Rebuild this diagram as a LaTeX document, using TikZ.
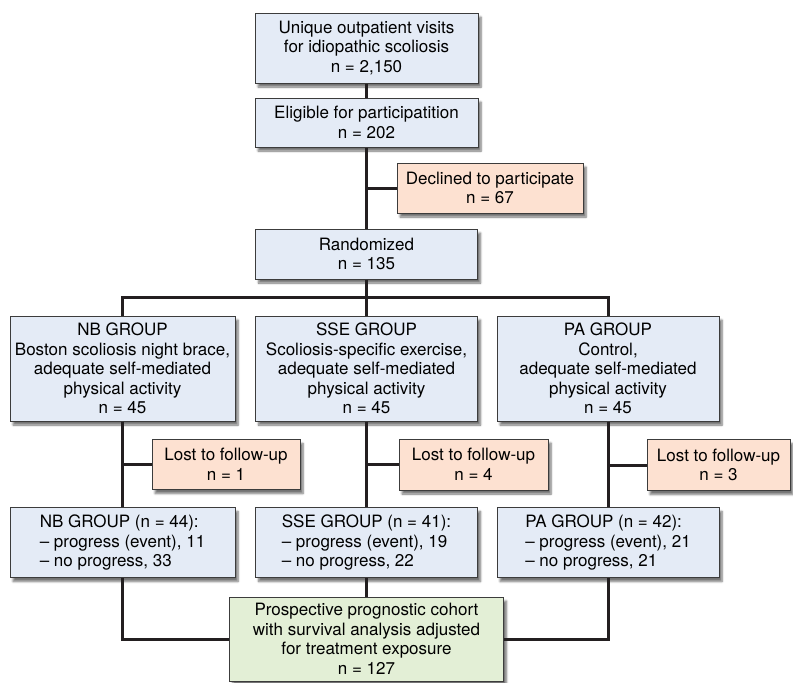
\documentclass[tikz,border=0pt]{standalone}
\usepackage{fontspec}
\setmainfont{TeX Gyre Heros}
\usepackage{xcolor}
\usepackage{tikz}
\usetikzlibrary{positioning,shadows.blur}
\definecolor{boxblue}{HTML}{E4EBF6}
\definecolor{boxpeach}{HTML}{FDE1D1}
\definecolor{boxgreen}{HTML}{E3EFD6}
\definecolor{boxline}{HTML}{3C3C3C}
\definecolor{wire}{HTML}{231F20}

\begin{document}
\begin{tikzpicture}[x=1pt, y=-1pt,
  box/.style={draw=boxline, line width=1pt, fill=boxblue, align=center, inner sep=0pt,
    font=\fontsize{17}{19.5}\selectfont,
    blur shadow={shadow xshift=3pt, shadow yshift=-4pt, shadow blur steps=6, shadow opacity=55}},
  outbox/.style={box, fill=boxpeach},
  endbox/.style={box, fill=boxgreen},
  link/.style={draw=wire, line width=3pt}]
  % page is 793 x 683 px, 1px = 1pt, y grows downwards
  \useasboundingbox (0,0) rectangle (793,683);
  % enrolment
  \node[box, minimum width=223pt, minimum height=70pt] (visits) at (366.5,48)
    {Unique outpatient visits\\for idiopathic scoliosis\\n = 2,150};
  \node[box, minimum width=223pt, minimum height=49pt] (elig) at (366.5,122.5)
    {Eligible for participatition\\n = 202};
  \node[outbox, minimum width=186pt, minimum height=50pt] (decl) at (490,188)
    {Declined to participate\\n = 67};
  \node[box, minimum width=222pt, minimum height=50pt] (rand) at (366.5,254)
    {Randomized\\n = 135};
  % allocation
  \node[box, minimum width=225pt, minimum height=105pt] (nb) at (122.5,368.5)
    {NB GROUP\\Boston scoliosis night brace,\\adequate self-mediated\\physical activity\\n = 45};
  \node[box, minimum width=222pt, minimum height=105pt] (sse) at (366.5,368.5)
    {SSE GROUP\\Scoliosis-specific exercise,\\adequate self-mediated\\physical activity\\n = 45};
  \node[box, minimum width=222pt, minimum height=105pt] (pa) at (608,368.5)
    {PA GROUP\\Control,\\adequate self-mediated\\physical activity\\n = 45};
  % follow-up
  \node[outbox, minimum width=148pt, minimum height=50pt] (nblost) at (226,464.5)
    {Lost to follow-up\\n = 1};
  \node[outbox, minimum width=149pt, minimum height=51pt] (sselost) at (473.5,464.5)
    {Lost to follow-up\\n = 4};
  \node[outbox, minimum width=143pt, minimum height=51pt] (palost) at (718.5,465)
    {Lost to follow-up\\n = 3};
  % analysis
  \node[box, align=left, minimum width=225pt, minimum height=70pt] (nbres) at (122.5,542.5)
    {NB GROUP (n = 44):\\– progress (event), 11\\– no progress, 33};
  \node[box, align=left, minimum width=222pt, minimum height=70pt] (sseres) at (366.5,542.5)
    {SSE GROUP (n = 41):\\– progress (event), 19\\– no progress, 22};
  \node[box, align=left, minimum width=222pt, minimum height=70pt] (pares) at (608,542.5)
    {PA GROUP (n = 42):\\– progress (event), 21\\– no progress, 21};
  \node[endbox, minimum width=274pt, minimum height=84pt] (cohort) at (366.5,639)
    {Prospective prognostic cohort\\with survival analysis adjusted\\for treatment exposure\\n = 127};
  % connectors
  \coordinate (bus) at (366.5,297);
  \path[link] (visits) -- (elig);
  \path[link] (elig) -- (rand);
  \path[link] (elig.south |- decl.west) -- (decl.west);
  \path[link] (rand) -- (sse);
  \path[link] (bus) -| (nb.north);
  \path[link] (bus) -| (pa.north);
  \foreach \g in {nb,sse,pa} {
    \path[link] (\g) -- (\g res);
    \path[link] (\g.south |- \g lost.west) -- (\g lost.west);
  }
  \path[link] (sseres) -- (cohort);
  \path[link] (nbres.south) |- (cohort.west);
  \path[link] (pares.south) |- (cohort.east);
\end{tikzpicture}
\end{document}
